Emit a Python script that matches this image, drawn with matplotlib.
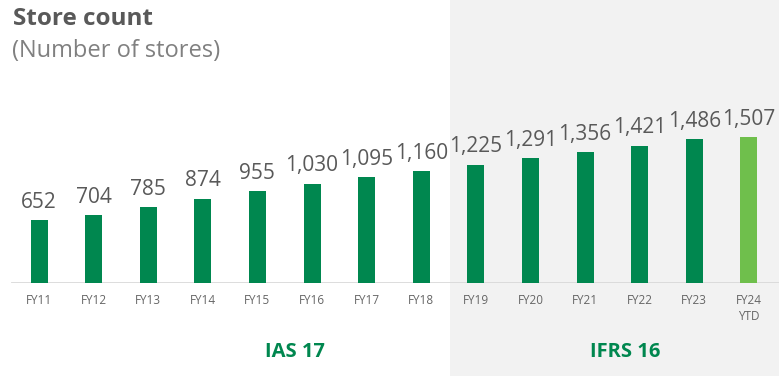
import matplotlib
matplotlib.use("Agg")
import matplotlib.pyplot as plt
from matplotlib.patches import Rectangle

plt.rcParams['font.family'] = ['Open Sans', 'DejaVu Sans']

categories = ["FY11", "FY12", "FY13", "FY14", "FY15", "FY16", "FY17",
              "FY18", "FY19", "FY20", "FY21", "FY22", "FY23", "FY24\nYTD"]
stores = [652, 704, 785, 874, 955, 1030, 1095, 1160, 1225, 1291, 1356,
          1421, 1486, 1507]
sections = ["IAS 17", "IFRS 16"]

W, H = 779, 376
fig = plt.figure(figsize=(W / 100, H / 100), dpi=100)
fig.patch.set_facecolor("white")

# shaded IFRS 16 region, behind the axes
fig.patches.append(Rectangle((450 / W, 0), (W - 450) / W, 1,
                             transform=fig.transFigure, facecolor="#f2f2f2",
                             edgecolor="none", zorder=-1))

base_px = 93
ax = fig.add_axes([0, base_px / H, 1, (H - base_px) / H])
ax.set_zorder(1)
ax.set_facecolor("none")
px_per_unit = 0.0966
ax.set_ylim(0, (H - base_px) / px_per_unit)
x0, step = 39, 54.6
ax.set_xlim(-x0 / step, (W - x0) / step)

dark, light = "#00874f", "#6fbf4c"
colors = [dark] * (len(stores) - 1) + [light]
xs = list(range(len(stores)))
ax.bar(xs, stores, width=17 / step, color=colors, zorder=3)

for x, v in zip(xs, stores):
    ax.text(x, v + 75, f"{v:,}", ha="center", va="bottom", fontsize=15,
            color="#595959")

ax.axhline(0, xmin=12 / W, xmax=1, color="#d9d9d9", lw=2, zorder=2)

for x, c in zip(xs, categories):
    ax.text(x, -115, c, ha="center", va="top", fontsize=8.5, color="#666666",
            linespacing=1.25)

ax.axis("off")

fig.text(295 / W, 24 / H, sections[0], ha="center", va="center",
         fontsize=14.5, fontweight="bold", color="#00874f", zorder=5)
fig.text(625 / W, 24 / H, sections[1], ha="center", va="center",
         fontsize=14.5, fontweight="bold", color="#00874f", zorder=5)

fig.text(13 / W, 1 - 19 / H, "Store count", ha="left", va="center",
         fontsize=17.5, fontweight="bold", color="#595959")
fig.text(12 / W, 1 - 51 / H, "(Number of stores)", ha="left", va="center",
         fontsize=17, color="#808080")

fig.savefig("out.png", dpi=100)
